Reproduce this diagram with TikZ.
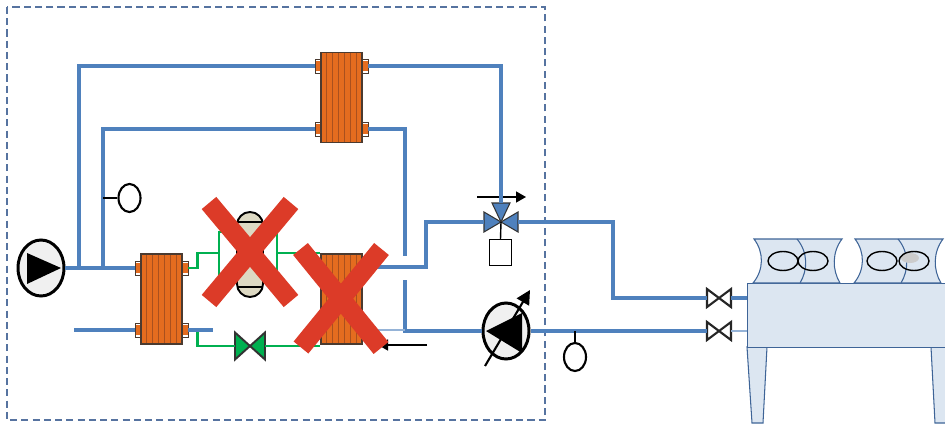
\documentclass[tikz,border=0pt]{standalone}
\usepackage{tikz}
\usetikzlibrary{shapes.geometric,arrows.meta}

\definecolor{pipeblue}{HTML}{4F81BD}
\definecolor{lightpipe}{HTML}{95B3D7}
\definecolor{glygreen}{HTML}{00B050}
\definecolor{hxorange}{HTML}{E46C1F}
\definecolor{hxedge}{HTML}{4A3A30}
\definecolor{hxplate}{HTML}{A9501E}
\definecolor{xred}{HTML}{DC3B28}
\definecolor{frameblue}{HTML}{5673A0}
\definecolor{coolfill}{HTML}{DCE6F1}
\definecolor{cooledge}{HTML}{3E6497}
\definecolor{vesselfill}{HTML}{DDD9C3}
\definecolor{pumpfill}{HTML}{F0F0F0}

\tikzset{
  pipe/.style={draw=pipeblue, line width=2.3pt},
  thinpipe/.style={draw=lightpipe, line width=1.1pt},
  glycol/.style={draw=glygreen, line width=1.6pt},
  pump/.style={ellipse, draw=black, line width=1.7pt, fill=pumpfill, minimum width=9.2mm, minimum height=11.2mm, inner sep=0pt},
  hx/.style={draw=hxedge, line width=0.6pt, fill=hxorange, minimum width=8.2mm, minimum height=18mm, inner sep=0pt,
    path picture={\foreach \k in {1,...,6}
      \draw[hxplate, line width=0.5pt] ([xshift=\k*1.17mm]path picture bounding box.south west) -- ([xshift=\k*1.17mm]path picture bounding box.north west);}},
  port/.style={draw=hxedge, line width=0.5pt, fill=white, minimum width=1.2mm, minimum height=2.8mm, inner sep=0pt,
    path picture={\fill[hxorange] ([yshift=0.45mm]path picture bounding box.south west) rectangle ([yshift=-0.45mm]path picture bounding box.north east);}},
  sensor/.style={ellipse, draw=black, line width=1.2pt, fill=white, minimum width=4.4mm, minimum height=5.6mm, inner sep=0pt},
  vessel/.style={draw=black, line width=1.1pt, fill=vesselfill, rounded corners=2.6mm, minimum width=5.2mm, minimum height=17mm, inner sep=0pt,
    path picture={
      \draw[line width=1.6pt] ([yshift=-2mm]path picture bounding box.north west) -- ([yshift=-2mm]path picture bounding box.north east);
      \draw[line width=1.6pt] ([yshift=2mm]path picture bounding box.south west) -- ([yshift=2mm]path picture bounding box.south east);}},
  actuator/.style={draw=black, line width=0.6pt, fill=white, minimum width=4.4mm, minimum height=5.2mm, inner sep=0pt},
  flowarrow/.style={draw=black, line width=0.8pt, -{Triangle[length=2mm,width=2.2mm]}},
  cross/.style={draw=xred, line width=3.8mm},
  frame/.style={draw=frameblue, line width=0.7pt, dash pattern=on 4pt off 2.4pt},
  cooler/.style={draw=cooledge, line width=0.6pt, fill=coolfill},
  fanring/.style={draw=black, line width=0.8pt},
  pics/gate/.style={code={
    \draw[pic actions] (-12,-9) -- (12,9) -- (12,-9) -- (-12,9) -- cycle;
    \coordinate (-w) at (-12,0);
    \coordinate (-e) at (12,0);}},
  pics/threeway/.style={code={
    \draw[pic actions] (-17,-10) -- (0,0) -- (-17,10) -- cycle;
    \draw[pic actions] (17,-10) -- (0,0) -- (17,10) -- cycle;
    \draw[pic actions] (-9,-19) -- (9,-19) -- (0,0) -- cycle;
    \coordinate (-c) at (0,0);
    \coordinate (-w) at (-17,0);
    \coordinate (-e) at (17,0);
    \coordinate (-n) at (0,-19);}}
}

\begin{document}
\begin{tikzpicture}[x=0.2mm, y=-0.2mm]
  \useasboundingbox (0,0) rectangle (945,425);

  % plant room
  \draw[frame] (7,7) rectangle (545,420);

  % pumps
  \node[pump] (p1) at (41,268) {};
  \node[pump] (p2) at (506,331) {};
  \fill (27,253) -- (61,268) -- (27,284) -- cycle;
  \fill (486,331) -- (522,313) -- (522,353) -- cycle;
  \draw[flowarrow, line width=1.2pt, -{Triangle[length=2.8mm,width=2.8mm]}] ([shift={(-21,35)}]p2.center) -- ++(45,-76);

  % heat exchangers with their ports
  \node[port] (a1) at (318,66) {};
  \node[port] (a2) at (318,129) {};
  \node[port] (a3) at (365,66) {};
  \node[port] (a4) at (365,129) {};
  \node[hx] (hxa) at (341.5,97.5) {};

  \node[port] (b1) at (138,268) {};
  \node[port] (b2) at (138,330) {};
  \node[port] (b3) at (185,268) {};
  \node[port] (b4) at (185,330) {};
  \node[hx] (hxb) at (161.5,299) {};

  \node[hx] (hxc) at (341.5,299) {};

  % valves
  \pic[draw=black!80, fill=pipeblue, line width=0.6pt] (tv) at (501,222) {threeway};
  \node[actuator] (act) at (500.5,252.5) {};
  \draw[line width=0.8pt] (tv-c) -- (act.north);
  \draw[flowarrow] ([shift={(-24,-25)}]tv-c) -- ++(49,0);

  \pic[draw=black!85, fill=white, line width=1.2pt] (v1) at (719,298) {gate};
  \pic[draw=black!85, fill=white, line width=1.2pt] (v2) at (719,331) {gate};
  \pic[draw=black!80, fill=glygreen, line width=1.1pt, xscale=1.25, yscale=1.5] (gv) at (250,346) {gate};

  % dry cooler
  \draw[cooler] (747,347) -- (767,347) -- (763,423) -- (752,423) -- cycle;
  \draw[cooler] (931,347) -- (951,347) -- (947,423) -- (935,423) -- cycle;
  \node[cooler, minimum width=42.6mm, minimum height=12.8mm, inner sep=0pt, anchor=north west] (cool) at (747,283) {};
  \draw[cooler] (754,239) -- (842,239) .. controls (832,252) and (832,270) .. (840,283) -- (753,283) .. controls (764,270) and (764,252) .. (754,239) -- cycle;
  \draw[cooler] (797,239) .. controls (808,252) and (808,270) .. (800,283);
  \draw[cooler] (855,239) -- (943,239) .. controls (933,252) and (933,270) .. (941,283) -- (854,283) .. controls (865,270) and (865,252) .. (855,239) -- cycle;
  \draw[cooler] (898,239) .. controls (909,252) and (909,270) .. (901,283);
  \draw[fanring] (783,261) ellipse [x radius=15, y radius=9.5];
  \draw[fanring] (813,261) ellipse [x radius=15, y radius=9.5];
  \draw[fanring] (882,261) ellipse [x radius=15, y radius=9.5];
  \fill[gray!40] (910,258) ellipse [x radius=9, y radius=5];
  \draw[fanring] (914,261) ellipse [x radius=15, y radius=9.5];

  % blue circuit
  \coordinate (j1) at (79,268);
  \coordinate (j2) at (103,268);
  \coordinate (c1) at (405,256);
  \coordinate (c2) at (405,280);
  \coordinate (h3a) at (362,267);
  \coordinate (h3b) at (362,330);
  \draw[pipe] (p1.east) -- (b1.west);
  \draw[pipe] (j1) |- (a1.west);
  \draw[pipe] (j2) |- (a2.west);
  \draw[pipe] (a3.east) -| (tv-n);
  \draw[pipe] (a4.east) -| (c1);
  \draw[pipe] (h3a) -- ++(64,0) |- (tv-w);
  \draw[pipe] (tv-e) -- ++(95,0) |- (v1-w);
  \draw[pipe] (v1-e) -- (v1-e -| cool.west);
  \draw[pipe] (c2) |- (p2.west);
  \draw[pipe] (p2.east) -- (v2-w);
  \draw[thinpipe] (v2-e) -- (v2-e -| cool.west);
  \draw[thinpipe] (h3b) -- ++(43,0);
  \draw[pipe] (b2.west) -- ++(-61,0);

  % sensors
  \node[sensor] (s1) at (129.5,198) {};
  \draw[line width=1.2pt] (j2 |- s1) -- (s1.west);
  \node[sensor] (s2) at (575,357) {};
  \draw[line width=1.2pt] (s2.north) -- (s2.north |- p2);

  % glycol side
  \node[vessel] (vs) at (250,254.5) {};
  \coordinate (gl) at (219,253);
  \coordinate (gr) at (277,253);
  \draw[glycol] (b3.east) -- ++(9,0) |- (gl);
  \draw[glycol] ([yshift=4.5mm]vs.west) -| (gl) |- ([yshift=-4.2mm]vs.west);
  \draw[glycol] ([yshift=4.5mm]vs.east) -| (gr) |- ([yshift=-4.2mm]vs.east);
  \draw[glycol] (gr) -- (gr -| hxc.west);
  \draw[glycol] (b4.east) -- ++(9,0) |- (gv-w);
  \draw[glycol] (gv-e) -- (gv-e -| hxc.west);
  \draw[pipe, line width=1.8pt] (b4.east) -- ++(25,0);

  \draw[flowarrow] ([shift={(85.5,46)}]hxc.center) -- ++(-49,0);

  % out of service
  \draw[cross] (209,203) -- (291,301) (291,203) -- (209,301);
  \draw[cross] (300.5,249) -- (381,348) (381.5,249) -- (301,347.5);
\end{tikzpicture}
\end{document}
